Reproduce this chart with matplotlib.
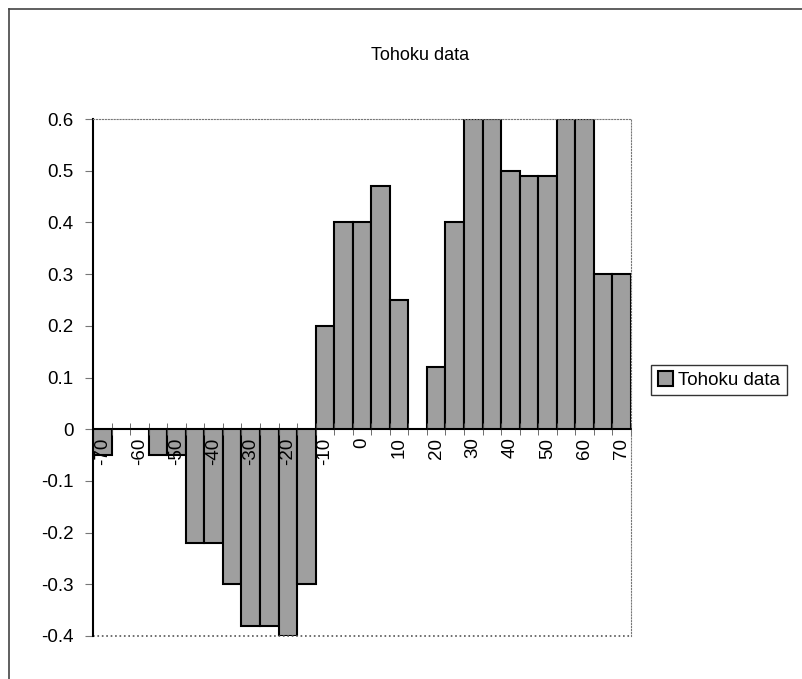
import matplotlib.pyplot as plt
from matplotlib.lines import Line2D
import numpy as np

plt.rcParams['font.family'] = ['Liberation Sans', 'DejaVu Sans']

# category labels (-70 .. 70 step 5) and bar heights
categories = [-70, -65, -60, -55, -50, -45, -40, -35, -30, -25, -20, -15, -10, -5, 0,
              5, 10, 15, 20, 25, 30, 35, 40, 45, 50, 55, 60, 65, 70]
values = [-0.05, 0, 0, -0.05, -0.05, -0.22, -0.22, -0.30, -0.38, -0.38, -0.40, -0.30, 0.20, 0.40, 0.40,
          0.47, 0.25, 0, 0.12, 0.40, 0.60, 0.60, 0.50, 0.49, 0.49, 0.60, 0.60, 0.30, 0.30]
yticks = [0.6, 0.5, 0.4, 0.3, 0.2, 0.1, 0, -0.1, -0.2, -0.3, -0.4]

fig = plt.figure(figsize=(8.03, 6.79), dpi=100)
ax = fig.add_axes([93/803, 1 - 636/679, 538/803, 517/679])

x = np.arange(len(categories))
bars = ax.bar(x, values, width=1.0, color='#9f9f9f', edgecolor='black', linewidth=1.5,
              label='Tohoku data', zorder=1)

ax.set_xlim(-0.5, len(categories) - 0.5)
ax.set_ylim(-0.4, 0.6)

# spines
ax.spines['bottom'].set_position(('data', 0))
ax.spines['bottom'].set_linewidth(1.2)
ax.spines['left'].set_linewidth(1.5)
for s in ['top', 'right']:
    ax.spines[s].set_linestyle(':')
    ax.spines[s].set_color('#777777')
ax.plot([0, 1], [0, 0], transform=ax.transAxes, ls=':', color='#555555', lw=1.2, clip_on=False)

# x ticks: marks at boundaries, labels every other category
ax.set_xticks(x[::2])
ax.set_xticklabels([str(c) for c in categories[::2]], rotation=90, va='top', fontsize=13.5)
ax.tick_params(axis='x', which='major', length=0, pad=6)
ax.set_xticks(np.arange(len(categories) + 1) - 0.5, minor=True)
ax.tick_params(axis='x', which='minor', direction='inout', length=8, color='#555555')

ax.set_yticks(yticks)
ax.set_yticklabels(['0' if v == 0 else f'{v:.1f}' for v in yticks], fontsize=13.5)
ax.tick_params(axis='y', direction='out', length=6, color='#777777', pad=8)

fig.text(420/803, 1 - 55/679, 'Tohoku data', ha='center', va='center', fontsize=13)

leg = ax.legend(loc='center left', bbox_to_anchor=(651/803, 1 - 380/679), bbox_transform=fig.transFigure,
                fontsize=13.5, frameon=True, fancybox=False, handlelength=0.8, handleheight=0.8,
                handletextpad=0.3, borderpad=0.35, borderaxespad=0)
leg.get_frame().set_edgecolor('black')
leg.get_frame().set_linewidth(1.0)

# outer chart border
fig.add_artist(Line2D([9/803, 9/803], [0, 1 - 9/679], color='#444444', lw=1.2))
fig.add_artist(Line2D([9/803, 1], [1 - 9/679, 1 - 9/679], color='#444444', lw=1.2))

fig.savefig('out.png', dpi=100)
